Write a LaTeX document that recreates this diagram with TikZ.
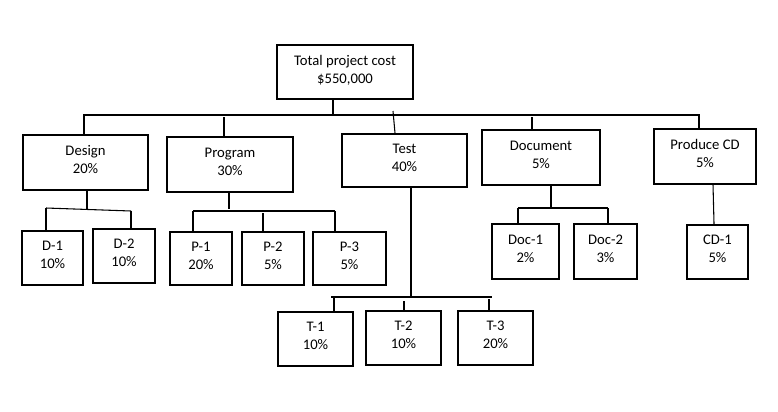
\documentclass[tikz,border=0pt]{standalone}
\usepackage{fontspec}
\setmainfont{Carlito}
\begin{document}
\begin{tikzpicture}[x=0.75pt,y=-0.75pt,
  box/.style={draw=black,line width=0.8pt,rectangle,inner sep=0pt,align=center,
    font=\fontsize{11pt}{13.5pt}\selectfont,text depth=4.5pt},
  conn/.style={draw=black,line width=0.8pt}]
\fill[white] (0,0) rectangle (778,411);
\useasboundingbox (0,0) rectangle (778,411);
\newcommand\wbs[6]{\node[box,minimum width=#4*0.75pt,minimum height=#5*0.75pt] (#1) at (#2,#3) {#6};}
% level 0
\wbs{top}{345}{72}{136}{54}{Total project cost\\\$550,000}
% level 1
\wbs{design}{85.5}{162.5}{125}{55}{Design\\20\%}
\wbs{program}{230}{164.5}{126}{55}{Program\\30\%}
\wbs{test}{404.5}{160.5}{125}{53}{Test\\40\%}
\wbs{document}{541}{157.5}{118}{55}{Document\\5\%}
\wbs{producecd}{705}{156.5}{102}{55}{Produce CD\\5\%}
% level 2
\wbs{d1}{52.5}{258}{61}{54}{D-1\\10\%}
\wbs{d2}{124}{256}{62}{54}{D-2\\10\%}
\wbs{p1}{201}{258.5}{62}{53}{P-1\\20\%}
\wbs{p2}{273}{258.5}{62}{53}{P-2\\5\%}
\wbs{p3}{349.5}{258.5}{73}{53}{P-3\\5\%}
\wbs{t1}{315.5}{339}{75}{54}{T-1\\10\%}
\wbs{t2}{403.5}{338}{75}{54}{T-2\\10\%}
\wbs{t3}{495.5}{338}{75}{54}{T-3\\20\%}
\wbs{doc1}{525.5}{251.5}{67}{55}{Doc-1\\2\%}
\wbs{doc2}{605.5}{251.5}{63}{55}{Doc-2\\3\%}
\wbs{cd1}{717.5}{252}{61}{54}{CD-1\\5\%}
% top bus
\coordinate (b0) at (333,116);
\coordinate (busL) at (83,115);
\coordinate (busR) at (700,115);
\coordinate (bD) at (84,115);
\coordinate (bP) at (224,117);
\coordinate (bT) at (393,111);
\coordinate (bDoc) at (532,117);
\coordinate (bCD) at (699,115);
\draw[conn] (top.south -| b0) -- (b0);
\draw[conn] (busL) -- (busR);
\draw[conn] (bD) -- (design.north -| bD);
\draw[conn] (bP) -- (program.north -| bP);
\draw[conn] (bT) -- ([xshift=-7.1pt]test.north);
\draw[conn] (bDoc) -- (document.north -| bDoc);
\draw[conn] (bCD) -- (producecd.north -| bCD);
% design
\coordinate (dj) at (87,209);
\coordinate (dL) at (46,208);
\coordinate (dR) at (131,211);
\draw[conn] (design.south -| dj) -- (dj);
\draw[conn] (dL) -- (dR);
\draw[conn] (dL) -- (d1.north -| dL);
\draw[conn] (dR) -- (d2.north -| dR);
% program
\coordinate (pj) at (229,208.5);
\coordinate (pL) at (193,211);
\coordinate (pR) at (335,211);
\coordinate (pM) at (263,213);
\draw[conn] (program.south -| pj) -- (pj);
\draw[conn] (pL) -- (pR);
\draw[conn] (pL) -- (p1.north -| pL);
\draw[conn] (pM) -- (p2.north -| pM);
\draw[conn] (pR) -- (p3.north -| pR);
% test
\coordinate (tj) at (411,298);
\coordinate (tL) at (331,297);
\coordinate (tR) at (492,297);
\coordinate (t1x) at (334,297);
\coordinate (t2x) at (404,301);
\coordinate (t3x) at (489,299);
\draw[conn] (test.south -| tj) -- (tj);
\draw[conn] (tL) -- (tR);
\draw[conn] (t1x) -- (t1.north -| t1x);
\draw[conn] (t2x) -- (t2.north -| t2x);
\draw[conn] (t3x) -- (t3.north -| t3x);
% document
\coordinate (docj) at (551,208);
\coordinate (docL) at (518,208);
\coordinate (docR) at (608,208);
\draw[conn] (document.south -| docj) -- (docj);
\draw[conn] (docL) -- (docR);
\draw[conn] (docL) -- (doc1.north -| docL);
\draw[conn] (docR) -- (doc2.north -| docR);
% produce cd
\draw[conn] ([xshift=6pt]producecd.south) -- ([xshift=-2.6pt]cd1.north);
\end{tikzpicture}
\end{document}
